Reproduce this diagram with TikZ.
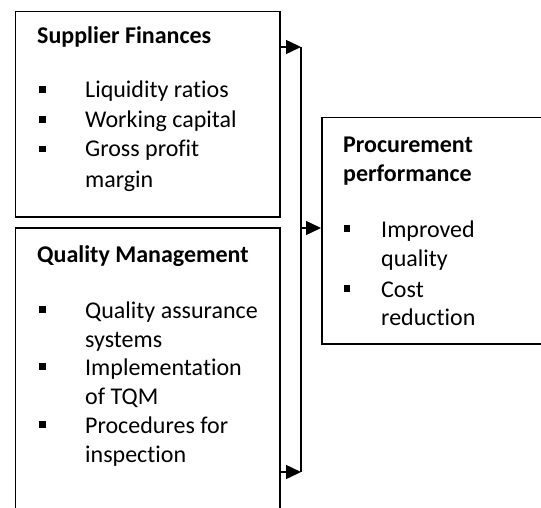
\documentclass[tikz,border=0pt]{standalone}
\usepackage{fontspec}
\setmainfont{Carlito}[RawFeature={-liga}]
\usetikzlibrary{arrows.meta}
\begin{document}
\begin{tikzpicture}[x=1pt,y=-1pt,
  box/.style={draw, line width=1.5pt, inner sep=0pt, anchor=north west},
  txt/.style={anchor=base west, inner sep=0pt, font=\fontsize{24}{29}\selectfont},
  head/.style={anchor=base west, inner sep=0pt, font=\fontsize{24}{29}\selectfont\bfseries},
  bul/.style={fill, minimum size=6.5pt, inner sep=0pt},
  link/.style={line width=1.5pt},
  arr/.style={link, -{Triangle[length=15pt,width=14pt]}}]
\useasboundingbox (0,0) rectangle (541,508);
\clip (0,0) rectangle (541,508);

% frames
\node[box, minimum width=264.5pt, minimum height=205.5pt] (sf) at (14.7,10.7) {};
\node[box, minimum width=264.5pt, minimum height=320pt] (qm) at (14.7,227) {};
\node[box, minimum width=260pt, minimum height=226pt] (pp) at (321,117) {};

% Supplier Finances
\node[head] (sfh) at (37,44) {Supplier Finances};
\node[bul] (sfb1) at (42.5,89.5) {};
\node[bul] (sfb2) at (42.5,119.5) {};
\node[bul] (sfb3) at (42.5,149) {};
\node[txt] (sf1) at (85,97.7) {Liquidity ratios};
\node[txt] (sf2) at (85,127.5) {Working capital};
\node[txt] (sf3) at (85,157) {Gross profit};
\node[txt] (sf4) at (85,187) {margin};

% Quality Management
\node[head] (qmh) at (37,262) {Quality Management};
\node[bul] (qmb1) at (42.5,309.6) {};
\node[bul] (qmb2) at (42.5,366.6) {};
\node[bul] (qmb3) at (42.5,424.6) {};
\node[txt] (qm1) at (85,318) {Quality assurance};
\node[txt] (qm2) at (85,347) {systems};
\node[txt] (qm3) at (85,375) {Implementation};
\node[txt] (qm4) at (85,404) {of TQM};
\node[txt] (qm5) at (85,433) {Procedures for};
\node[txt] (qm6) at (85,462) {inspection};

% Procurement performance
\node[head] (pph1) at (343,153) {Procurement};
\node[head] (pph2) at (343,182) {performance};
\node[bul] (ppb1) at (347,228.6) {};
\node[bul] (ppb2) at (347,288.6) {};
\node[txt] (pp1) at (381,237) {Improved};
\node[txt] (pp2) at (381,266) {quality};
\node[txt] (pp3) at (381,297) {Cost};
\node[txt] (pp4) at (381,325) {reduction};

% connectors
\coordinate (j1) at (301,47);
\coordinate (j2) at (301,472);
\coordinate (jm) at (301,228);
\draw[arr] (j1 -| sf.east) -- (j1);
\draw[arr] (j2 -| qm.east) -- (j2);
\draw[link] (j1) -- (j2);
\draw[arr] (jm) -- (jm -| pp.west);
\end{tikzpicture}
\end{document}
